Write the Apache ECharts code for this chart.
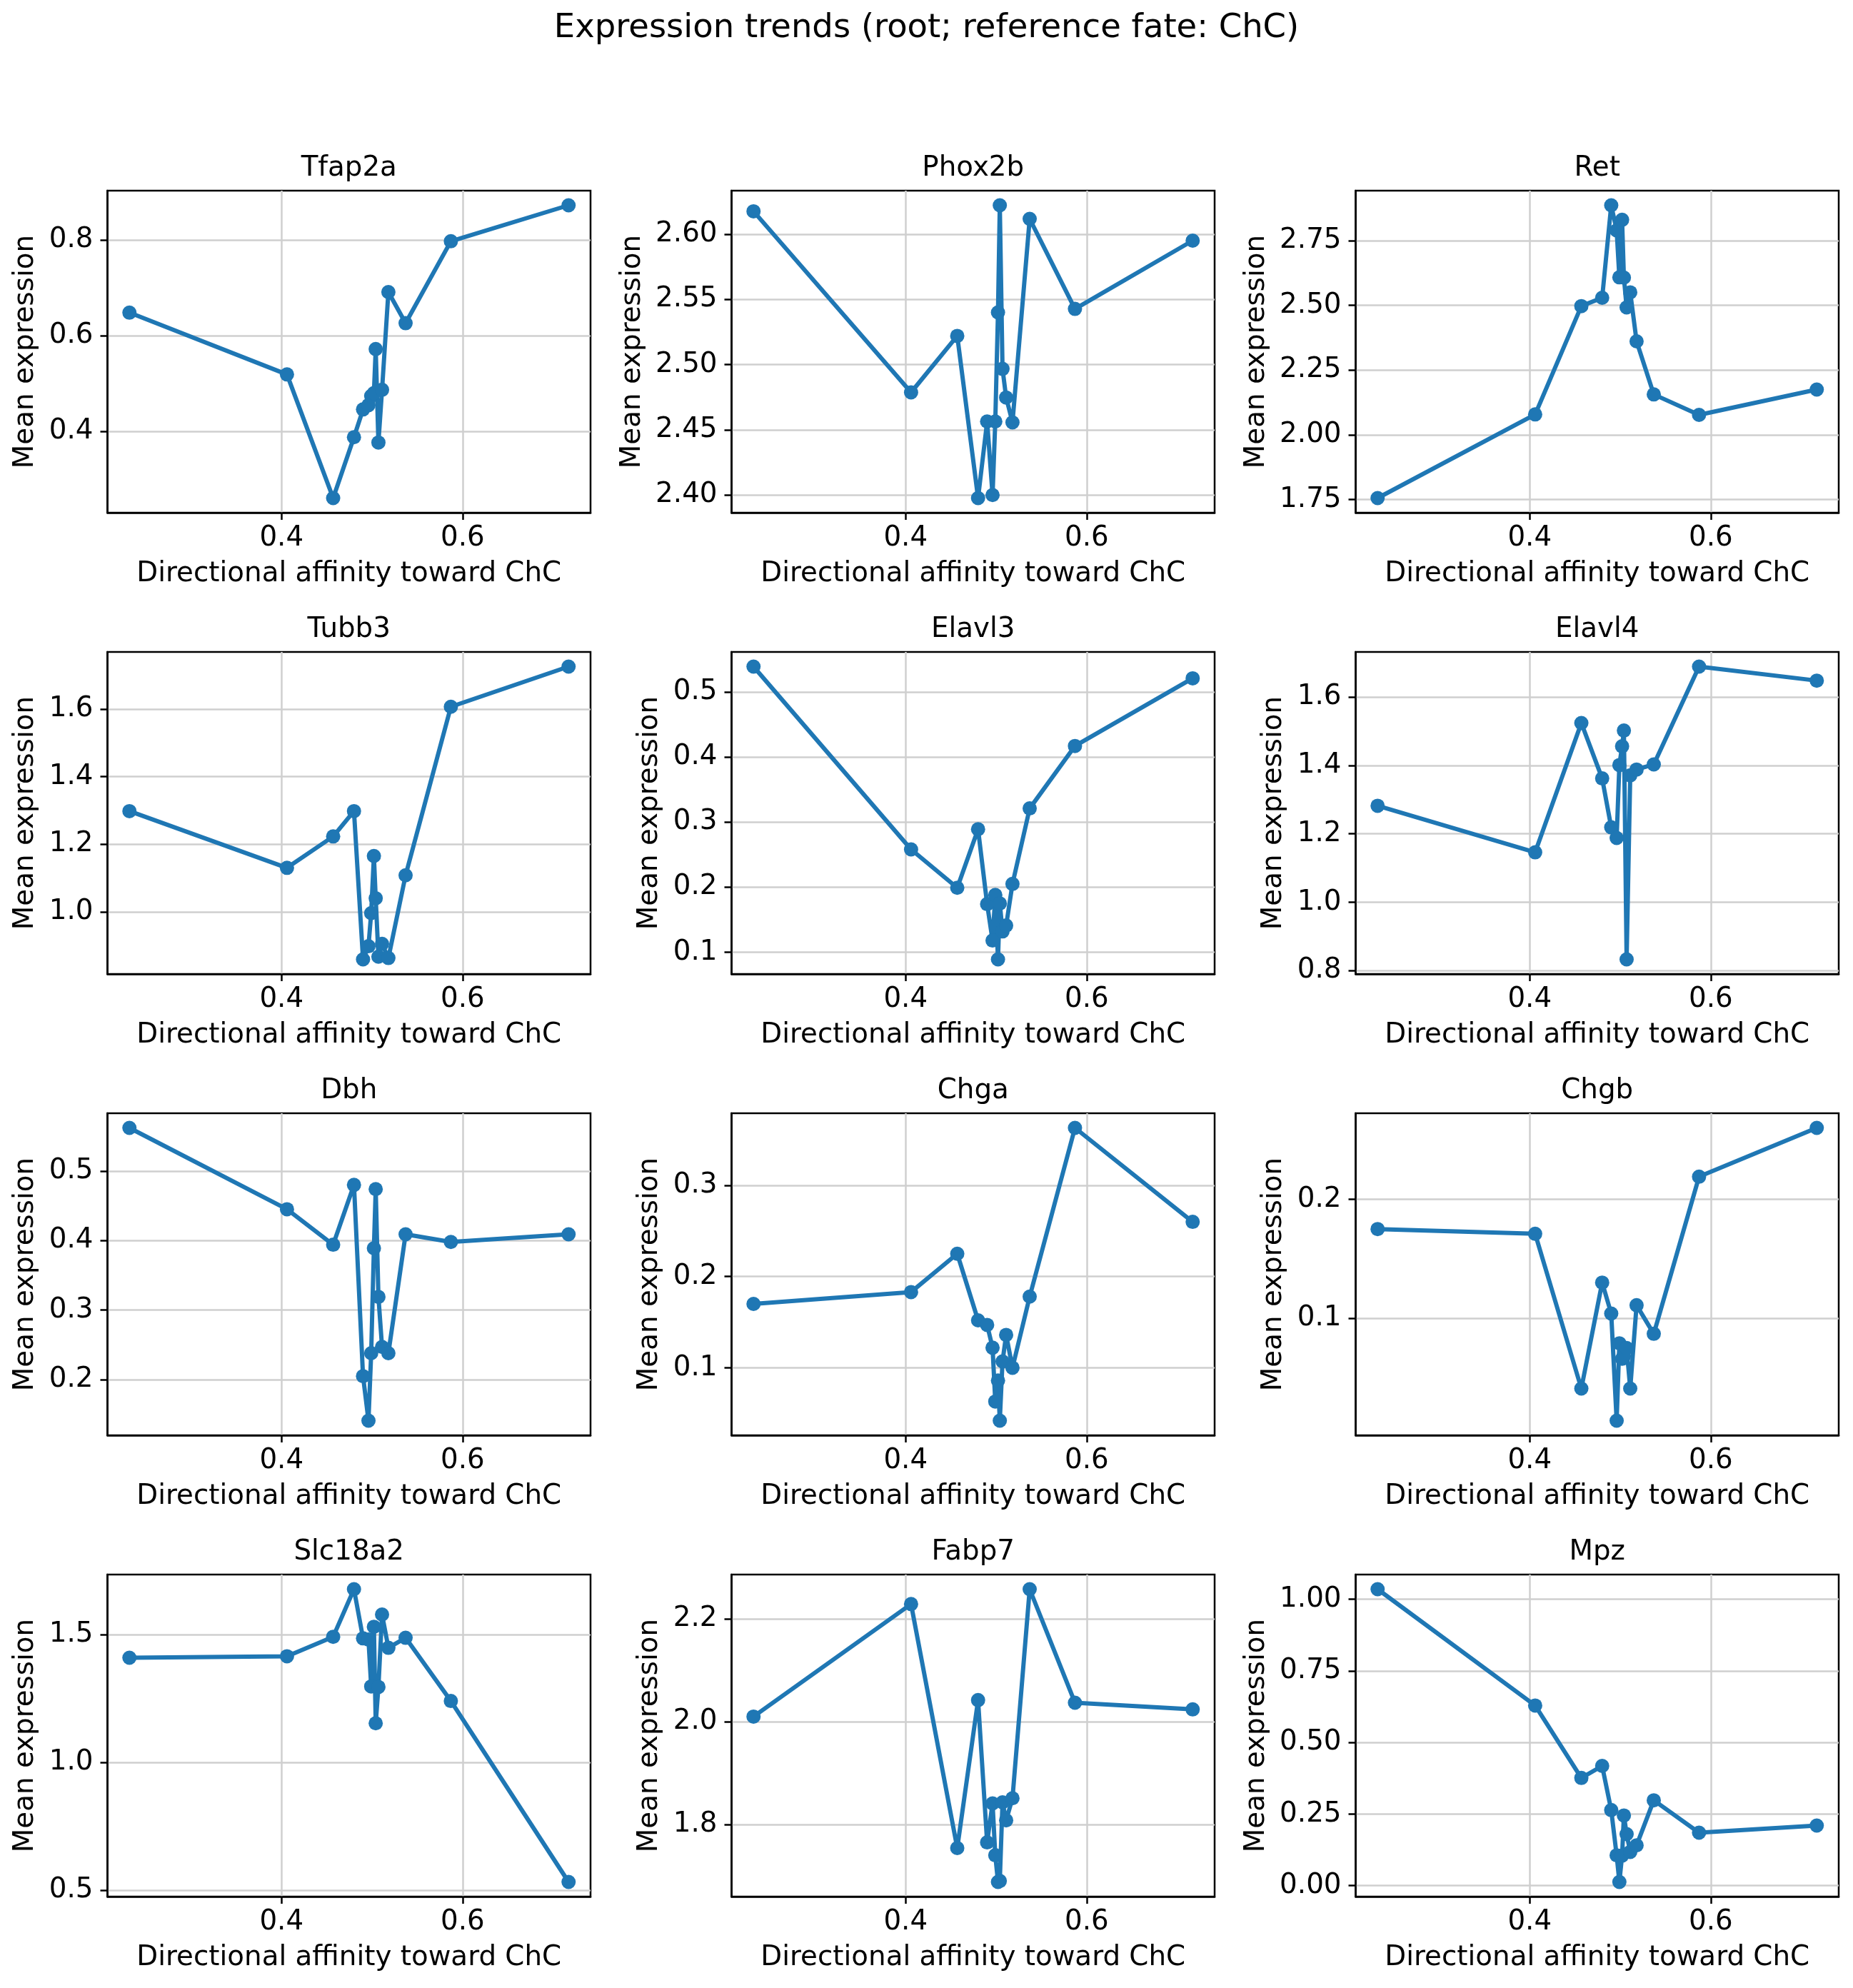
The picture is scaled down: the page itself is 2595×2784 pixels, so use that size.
<!DOCTYPE html>
<html>
<head>
<meta charset="utf-8">
<script src="https://cdn.jsdelivr.net/npm/echarts@6/dist/echarts.min.js"></script>
<style>
html,body{margin:0;padding:0;background:#ffffff;}
#chart{width:2595px;height:2784px;}
</style>
</head>
<body>
<div id="chart"></div>
<script>
// ---------------- data ----------------
const suptitle = 'Expression trends (root; reference fate: ChC)';
const xAxisName = 'Directional affinity toward ChC';
const yAxisName = 'Mean expression';

const genes = ['Tfap2a','Phox2b','Ret','Tubb3','Elavl3','Elavl4','Dbh','Chga','Chgb','Slc18a2','Fabp7','Mpz'];

const affinity = [0.232, 0.406, 0.457, 0.480, 0.490, 0.496, 0.499, 0.502, 0.504, 0.507, 0.511, 0.518, 0.537, 0.587, 0.717];

const tfap2a  = [0.648, 0.519, 0.261, 0.388, 0.446, 0.455, 0.474, 0.480, 0.572, 0.377, 0.487, 0.691, 0.626, 0.797, 0.872];
const phox2b  = [2.6175, 2.4787, 2.522, 2.3977, 2.4564, 2.400, 2.4564, 2.540, 2.6221, 2.4967, 2.4748, 2.4557, 2.6117, 2.5427, 2.595];
const ret     = [1.756, 2.079, 2.497, 2.529, 2.886, 2.789, 2.608, 2.830, 2.607, 2.492, 2.550, 2.361, 2.156, 2.077, 2.175];
const tubb3   = [1.298, 1.130, 1.223, 1.298, 0.859, 0.898, 0.996, 1.165, 1.040, 0.867, 0.905, 0.863, 1.108, 1.607, 1.726];
const elavl3  = [0.539, 0.258, 0.199, 0.289, 0.174, 0.118, 0.188, 0.089, 0.175, 0.132, 0.141, 0.205, 0.321, 0.417, 0.521];
const elavl4  = [1.282, 1.146, 1.524, 1.362, 1.219, 1.188, 1.401, 1.456, 1.502, 0.833, 1.371, 1.388, 1.403, 1.689, 1.648];
const dbh     = [0.562, 0.445, 0.394, 0.480, 0.205, 0.141, 0.238, 0.389, 0.474, 0.319, 0.247, 0.238, 0.409, 0.398, 0.409];
const chga    = [0.170, 0.183, 0.225, 0.152, 0.147, 0.122, 0.063, 0.086, 0.042, 0.107, 0.136, 0.100, 0.178, 0.363, 0.260];
const chgb    = [0.175, 0.171, 0.041, 0.130, 0.104, 0.014, 0.079, 0.066, 0.068, 0.075, 0.041, 0.111, 0.087, 0.219, 0.260];
const slc18a2 = [1.409, 1.415, 1.491, 1.677, 1.485, 1.480, 1.297, 1.530, 1.153, 1.295, 1.578, 1.448, 1.487, 1.240, 0.533];
const fabp7   = [2.010, 2.229, 1.754, 2.042, 1.765, 1.841, 1.740, 1.688, 1.690, 1.843, 1.808, 1.851, 2.258, 2.037, 2.024];
const mpz     = [1.035, 0.629, 0.376, 0.418, 0.264, 0.106, 0.013, 0.105, 0.245, 0.180, 0.118, 0.141, 0.298, 0.185, 0.210];

const xTickLabels = ['0.4', '0.6'];
const yTickLabels = [
  ['0.4', '0.6', '0.8'],
  ['2.40', '2.45', '2.50', '2.55', '2.60'],
  ['1.75', '2.00', '2.25', '2.50', '2.75'],
  ['1.0', '1.2', '1.4', '1.6'],
  ['0.1', '0.2', '0.3', '0.4', '0.5'],
  ['0.8', '1.0', '1.2', '1.4', '1.6'],
  ['0.2', '0.3', '0.4', '0.5'],
  ['0.1', '0.2', '0.3'],
  ['0.1', '0.2'],
  ['0.5', '1.0', '1.5'],
  ['1.8', '2.0', '2.2'],
  ['0.00', '0.25', '0.50', '0.75', '1.00']
];

const values = [tfap2a, phox2b, ret, tubb3, elavl3, elavl4, dbh, chga, chgb, slc18a2, fabp7, mpz];

// ---------------- layout / style ----------------
const FONT = 'DejaVu Sans';
const FS = 38.8;
const BLUE = '#1f77b4';
const GRIDC = '#cfcfcf';
const colLeft = [150.5, 1024.5, 1898.5];
const rowTop = [267, 913, 1559, 2205];
const PW = 676.5, PH = 451;

function padded(arr) {
  const mn = Math.min.apply(null, arr), mx = Math.max.apply(null, arr);
  const p = (mx - mn) * 0.05;
  return [mn - p, mx + p];
}
function decimals(s) { const i = s.indexOf('.'); return i < 0 ? 0 : s.length - i - 1; }
function labelWidth(s) { let w = 0; for (const ch of s) w += (ch === '.' ? 0.318 : 0.636); return w * FS; }

const xr = padded(affinity);
const xTicks = xTickLabels.map(Number);

const grids = [], xAxes = [], yAxes = [], series = [], graphics = [];

graphics.push({
  type: 'text', x: 1297.5, y: 40, silent: true,
  style: { text: suptitle, fill: '#000', font: '46.5px "' + FONT + '"', textAlign: 'center', textVerticalAlign: 'middle', align: 'center', verticalAlign: 'middle' }
});

genes.forEach((g, i) => {
  const r = Math.floor(i / 3), c = i % 3;
  const left = colLeft[c], top = rowTop[r];
  grids.push({ left: left, top: top, width: PW, height: PH, show: true, borderColor: '#000', borderWidth: 2.5, backgroundColor: 'transparent', containLabel: false, outerBoundsMode: 'none' });

  const yr = padded(values[i]);
  const yLabs = yTickLabels[i];
  const yTicks = yLabs.map(Number);
  const yDec = decimals(yLabs[0]);
  const maxW = Math.max.apply(null, yLabs.map(labelWidth));

  xAxes.push({
    type: 'value', gridIndex: i, min: xr[0], max: xr[1],
    name: xAxisName, nameLocation: 'middle', nameGap: 66,
    nameTextStyle: { fontFamily: FONT, fontSize: FS, color: '#000' },
    axisLine: { show: true, onZero: false, lineStyle: { color: '#000', width: 2.5 } },
    axisTick: { show: true, customValues: xTicks, length: 10, lineStyle: { color: '#000', width: 2.5 } },
    axisLabel: { show: true, customValues: xTicks, margin: 16.5, fontFamily: FONT, fontSize: FS, color: '#000',
                 formatter: v => Number(v).toFixed(1) },
    splitLine: { show: true, lineStyle: { color: GRIDC, width: 2.5 } }
  });
  yAxes.push({
    type: 'value', gridIndex: i, min: yr[0], max: yr[1],
    name: yAxisName, nameLocation: 'middle', nameGap: 20 + maxW + 13,
    nameTextStyle: { fontFamily: FONT, fontSize: FS, color: '#000' },
    axisLine: { show: true, onZero: false, lineStyle: { color: '#000', width: 2.5 } },
    axisTick: { show: true, customValues: yTicks, length: 10, lineStyle: { color: '#000', width: 2.5 } },
    axisLabel: { show: true, customValues: yTicks, margin: 20, fontFamily: FONT, fontSize: FS, color: '#000',
                 formatter: v => Number(v).toFixed(yDec) },
    splitLine: { show: true, lineStyle: { color: GRIDC, width: 2.5 } }
  });
  series.push({
    type: 'line', xAxisIndex: i, yAxisIndex: i,
    data: affinity.map((x, k) => [x, values[i][k]]),
    symbol: 'circle', symbolSize: 20, showSymbol: true,
    lineStyle: { color: BLUE, width: 6 },
    itemStyle: { color: BLUE },
    animation: false, silent: true, z: 3
  });
  graphics.push({
    type: 'text', x: left + PW / 2, y: top - 31, silent: true,
    style: { text: g, fill: '#000', font: FS + 'px "' + FONT + '"', textAlign: 'center', textVerticalAlign: 'middle', align: 'center', verticalAlign: 'middle' }
  });
});

const chart = echarts.init(document.getElementById('chart'), null, { renderer: 'canvas', width: 2595, height: 2784 });
chart.setOption({
  backgroundColor: '#ffffff',
  animation: false,
  textStyle: { fontFamily: FONT },
  grid: grids,
  xAxis: xAxes,
  yAxis: yAxes,
  series: series,
  graphic: graphics
});
</script>
</body>
</html>
